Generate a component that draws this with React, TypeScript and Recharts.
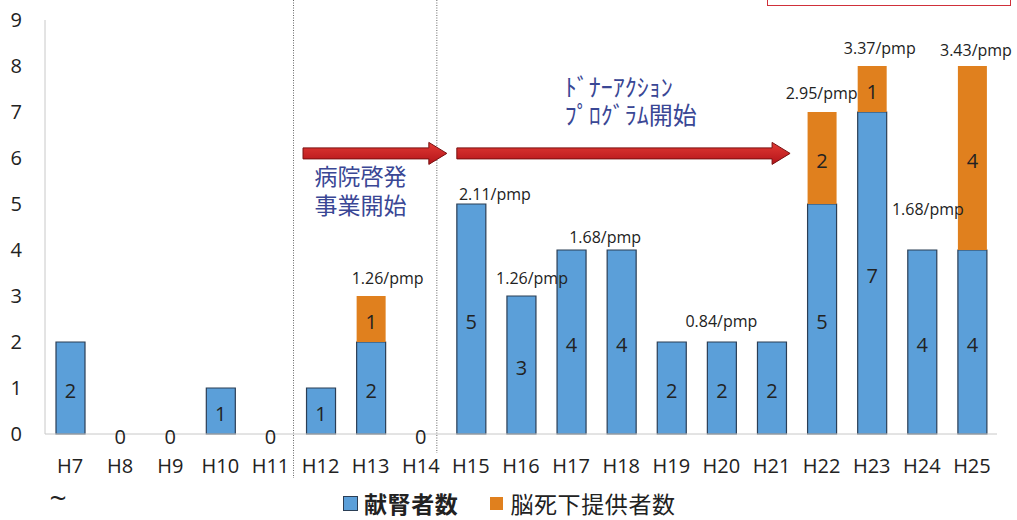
import React from 'react';
import { ComposedChart, Bar, Line, XAxis, YAxis, LabelList, ReferenceArea, Legend } from 'recharts';

// Fiscal years (Heisei era)
const years = ['H7', 'H8', 'H9', 'H10', 'H11', 'H12', 'H13', 'H14', 'H15', 'H16', 'H17', 'H18', 'H19', 'H20', 'H21', 'H22', 'H23', 'H24', 'H25'];
// Deceased kidney donors
const kidneyDonors = [2, 0, 0, 1, 0, 1, 2, 0, 5, 3, 4, 4, 2, 2, 2, 5, 7, 4, 4];
// Brain-death donors
const brainDeathDonors = [0, 0, 0, 0, 0, 0, 1, 0, 0, 0, 0, 0, 0, 0, 0, 2, 1, 0, 4];
// Donation rate per million population
const pmpRates = ['', '', '', '', '', '', '1.26/pmp', '', '2.11/pmp', '1.26/pmp', '1.68/pmp', '', '', '0.84/pmp', '', '2.95/pmp', '3.37/pmp', '1.68/pmp', '3.43/pmp'];
const yTicks = [0, 1, 2, 3, 4, 5, 6, 7, 8, 9];

const seriesNames = { kidney: '献腎者数', brain: '脳死下提供者数' };

// label placement relative to the stack top [dx, dy]
const pmpNudge: Record<string, [number, number]> = {
  H13: [17, -18],
  H15: [24, -10],
  H16: [11, -18],
  H17: [34, -13],
  H20: [0, -21],
  H22: [0, -19],
  H23: [8, -18],
  H24: [6, -41],
  H25: [4, -16],
};

const data = years.map((year, i) => ({
  year,
  kidney: kidneyDonors[i],
  brain: brainDeathDonors[i],
  total: kidneyDonors[i] + brainDeathDonors[i],
  pmp: pmpRates[i],
}));

const BLUE = '#5B9FD9';
const ORANGE = '#E0801E';
const TEXT = '#222';
const LATIN = '"Open Sans", "Noto Sans CJK JP", sans-serif';
const CJK = '"Noto Sans CJK JP", sans-serif';
const NAVY = '#3A4795';

// Year tick; years without any kidney donor also get a "0" sitting on the axis
const YearTick = (props: any) => {
  const { x, y, payload } = props;
  const i = years.indexOf(payload.value);
  const isZero = i >= 0 && kidneyDonors[i] === 0;
  return (
    <g>
      {isZero && (
        <text x={x} y={y - 5.5} textAnchor="middle" dominantBaseline="central" fontSize={20} fill={TEXT} fontFamily={LATIN}>
          0
        </text>
      )}
      <text x={x} y={y + 31} textAnchor="middle" fontSize={20} fill={TEXT} fontFamily={LATIN}>
        {payload.value}
      </text>
      {i === 0 && (
        <text x={x - 12} y={y + 55} textAnchor="middle" dominantBaseline="central" fontSize={30} fill={TEXT} fontFamily={LATIN}>
          ~
        </text>
      )}
    </g>
  );
};

const valueLabel = (props: any) => {
  const { x, y, width, height, value } = props;
  if (!value) return null;
  return (
    <text x={x + width / 2} y={y + height / 2 + 2} textAnchor="middle" dominantBaseline="central" fontSize={20} fill={TEXT} fontFamily={LATIN}>
      {value}
    </text>
  );
};

// pmp annotation placed above the stack top (the line point)
const pmpLabel = (props: any) => {
  const { x, y, value } = props;
  const i = years.indexOf(value);
  if (i < 0 || !pmpRates[i]) return null;
  const [dx, dy] = pmpNudge[value] || [0, -16];
  return (
    <text x={x + dx} y={y + dy} textAnchor="middle" dominantBaseline="central" fontSize={16} fill={TEXT} fontFamily={LATIN}>
      {pmpRates[i]}
    </text>
  );
};

// Red block arrow with a two-line caption
const ArrowShape = (props: any) => {
  const { x, y, width, height, startInset, endInset, id, lines, textDx, textDy, fontSize } = props;
  const x0 = x + startInset;
  const x1 = x + width + endInset;
  const cy = y + height / 2;
  const head = 18;
  const shaft = 5.5;
  const half = 11;
  const pts = [
    [x0, cy - shaft],
    [x1 - head, cy - shaft],
    [x1 - head, cy - half],
    [x1, cy],
    [x1 - head, cy + half],
    [x1 - head, cy + shaft],
    [x0, cy + shaft],
  ]
    .map((p) => p.join(','))
    .join(' ');
  const tx = x + textDx;
  return (
    <g>
      <defs>
        <linearGradient id={id} x1="0" y1="0" x2="0" y2="1">
          <stop offset="0%" stopColor="#E23A34" />
          <stop offset="100%" stopColor="#B3141A" />
        </linearGradient>
      </defs>
      <polygon points={pts} fill={`url(#${id})`} stroke="#7A1010" strokeWidth={1} />
      <text x={tx} y={cy + textDy} dominantBaseline="central" fontSize={fontSize} fill={NAVY} fontFamily={CJK}>
        {lines.map((t: string, i: number) => (
          <tspan key={i} x={tx} dy={i === 0 ? 0 : 28.5}>
            {t}
          </tspan>
        ))}
      </text>
    </g>
  );
};

// Dotted separators around the hospital-campaign period
const SeparatorShape = (props: any) => {
  const { x, width } = props;
  return (
    <g>
      <line x1={x - 2} y1={0} x2={x - 2} y2={478} stroke="#666" strokeWidth={1} strokeDasharray="1 1.5" />
      <line x1={x + width - 9} y1={0} x2={x + width - 9} y2={453} stroke="#666" strokeWidth={1} strokeDasharray="1 1.5" />
    </g>
  );
};

const LegendContent = (props: any) => {
  const items = ((props.payload || []) as any[]).filter((it) => it.type !== 'none' && it.value !== 'total');
  return (
    <div style={{ display: 'flex', alignItems: 'center', fontFamily: CJK, fontSize: 23, color: TEXT, lineHeight: '26px', whiteSpace: 'nowrap' }}>
      {items.map((it, i) => (
        <div key={i} style={{ display: 'flex', alignItems: 'center', marginRight: i === 0 ? 32 : 0 }}>
          <span
            style={{
              display: 'inline-block',
              width: 13,
              height: 13,
              background: it.color,
              border: i === 0 ? '1px solid #2b3e55' : 'none',
              marginRight: i === 0 ? 6 : 7,
            }}
          />
          <span style={{ fontWeight: i === 0 ? 700 : 400, letterSpacing: 0.6 }}>{it.value}</span>
        </div>
      ))}
    </div>
  );
};

export default function App() {
  return (
    <div style={{ position: 'absolute', left: 0, top: 0, width: 1017, height: 520, background: '#fff', overflow: 'hidden' }}>
      <ComposedChart width={1017} height={520} data={data} margin={{ top: 20, right: 20, left: 0, bottom: 0 }} barSize={29}>
        <XAxis
          dataKey="year"
          height={86}
          axisLine={{ stroke: '#C8C8C8' }}
          tickLine={false}
          tick={<YearTick />}
          interval={0}
        />
        <YAxis
          domain={[0, 9]}
          ticks={yTicks}
          width={45}
          axisLine={{ stroke: '#C8C8C8' }}
          tickLine={false}
          tickMargin={17}
          tick={{ fontSize: 20, fill: TEXT, fontFamily: LATIN }}
          interval={0}
        />
        <ReferenceArea x1="H12" x2="H14" y1={0} y2={9} ifOverflow="visible" shape={(p: any) => <SeparatorShape {...p} />} />
        <ReferenceArea
          x1="H12"
          x2="H14"
          y1={6.05}
          y2={6.15}
          ifOverflow="visible"
          shape={(p: any) => (
            <ArrowShape {...p} id="arrowA" startInset={7.5} endInset={1} lines={['病院啓発', '事業開始']} textDx={19} textDy={22} fontSize={23} />
          )}
        />
        <ReferenceArea
          x1="H15"
          x2="H21"
          y1={6.05}
          y2={6.15}
          ifOverflow="visible"
          shape={(p: any) => (
            <ArrowShape {...p} id="arrowB" startInset={11} endInset={-6.5} lines={['ﾄﾞﾅｰｱｸｼｮﾝ', 'ﾌﾟﾛｸﾞﾗﾑ開始']} textDx={119} textDy={-68.5} fontSize={24} />
          )}
        />
        <Bar dataKey="kidney" name={seriesNames.kidney} stackId="d" fill={BLUE} stroke="#2B3E55" strokeWidth={1.2} isAnimationActive={false}>
          <LabelList dataKey="kidney" content={valueLabel} />
        </Bar>
        <Bar dataKey="brain" name={seriesNames.brain} stackId="d" fill={ORANGE} isAnimationActive={false}>
          <LabelList dataKey="brain" content={valueLabel} />
        </Bar>
        <Line
          dataKey="total"
          name="total"
          stroke="none"
          dot={false}
          activeDot={false}
          legendType="none"
          isAnimationActive={false}
        >
          <LabelList dataKey="year" content={pmpLabel} />
        </Line>
        <Legend
          layout="horizontal"
          verticalAlign="middle"
          align="center"
          content={<LegendContent />}
          wrapperStyle={{ position: 'absolute', left: 343, top: 490, width: 420, height: 26 }}
        />
      </ComposedChart>
      <div
        style={{
          position: 'absolute',
          left: 767,
          top: -4,
          width: 244,
          height: 10,
          border: '1.5px solid #D0303A',
          boxSizing: 'border-box',
        }}
      />
    </div>
  );
}
